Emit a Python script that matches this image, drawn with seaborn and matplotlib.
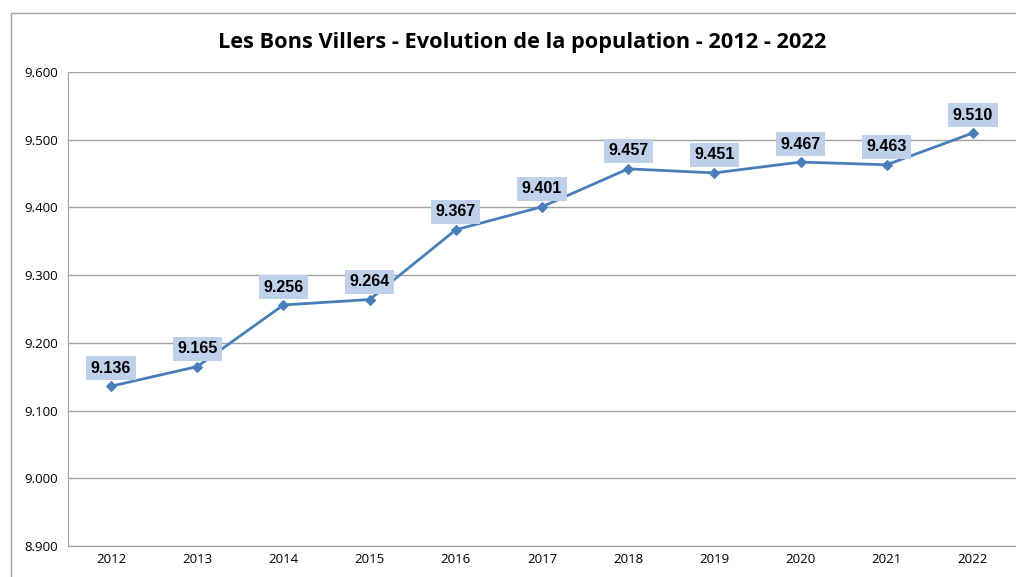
import matplotlib
matplotlib.use("Agg")
import matplotlib.pyplot as plt
import seaborn as sns
import pandas as pd
from matplotlib.patches import Rectangle
from matplotlib import font_manager

# Données
annees = ["2012", "2013", "2014", "2015", "2016", "2017", "2018", "2019", "2020", "2021", "2022"]
population = [9136, 9165, 9256, 9264, 9367, 9401, 9457, 9451, 9467, 9463, 9510]
y_ticks = [8900, 9000, 9100, 9200, 9300, 9400, 9500, 9600]

df = pd.DataFrame({"annee": annees, "population": population})
df["pos"] = range(len(df))

def fmt(v):
    return f"{v // 1000}.{v % 1000:03d}"

# police Arial-like en gras (pas la version Narrow)
label_font = None
for f in font_manager.fontManager.ttflist:
    if f.name == "Liberation Sans" and f.weight in (700, "bold") and f.style == "normal" \
            and "Narrow" not in f.fname:
        label_font = font_manager.FontProperties(fname=f.fname, size=11.5)
        break
if label_font is None:
    label_font = font_manager.FontProperties(family="DejaVu Sans", weight="bold", size=11)

sns.set_style("white")
plt.rcParams["font.family"] = ["Open Sans", "DejaVu Sans"]
plt.rcParams["text.color"] = "black"
plt.rcParams["xtick.color"] = "black"
plt.rcParams["ytick.color"] = "black"

fig = plt.figure(figsize=(10.16, 5.77), dpi=100)
ax = fig.add_axes([0.0669, 0.0537, 0.9331, 0.8215])

# cadre du graphique
fig.patches.append(Rectangle((11 / 1016, -0.1), 1.2, (577 - 13) / 577 + 0.1,
                             transform=fig.transFigure, fill=False,
                             edgecolor="#a0a0a0", linewidth=1.0))

sns.lineplot(data=df, x="pos", y="population", ax=ax, color="#4a7ebb",
             linewidth=2.0, marker="D", markersize=5.5, markeredgecolor="#4a7ebb")

for x, v in zip(df["pos"], df["population"]):
    ax.annotate(fmt(v), (x, v), xytext=(0, 7.5), textcoords="offset points",
                ha="center", va="bottom", fontproperties=label_font,
                color="black",
                bbox=dict(boxstyle="square,pad=0.28", facecolor="#bfd0eb",
                          edgecolor="none"))

ax.set_xlim(-0.5, len(annees) - 0.5)
ax.set_ylim(8900, 9600)
ax.set_xticks(range(len(annees)))
ax.set_xticklabels(annees, fontsize=9.5)
ax.set_xticks([i - 0.5 for i in range(len(annees) + 1)], minor=True)
ax.tick_params(axis="x", which="major", length=0, pad=5)
ax.tick_params(axis="x", which="minor", length=4, color="#a0a0a0", direction="out")
ax.set_yticks(y_ticks)
ax.set_yticklabels([fmt(v) for v in y_ticks], fontsize=9.5)
ax.tick_params(axis="y", length=5, color="#a0a0a0", direction="out", pad=2)
ax.grid(axis="y", color="#a0a0a0", linewidth=1.0)
ax.set_axisbelow(True)
for s in ["top", "right"]:
    ax.spines[s].set_visible(False)
ax.spines["left"].set_color("#a0a0a0")
ax.spines["bottom"].set_color("#a0a0a0")
ax.set_xlabel("")
ax.set_ylabel("")

fig.text(0.514, 0.927, "Les Bons Villers - Evolution de la population - 2012 - 2022",
         ha="center", va="center", fontsize=15.7, fontweight="bold", color="black")

fig.savefig("out.png", dpi=100)
